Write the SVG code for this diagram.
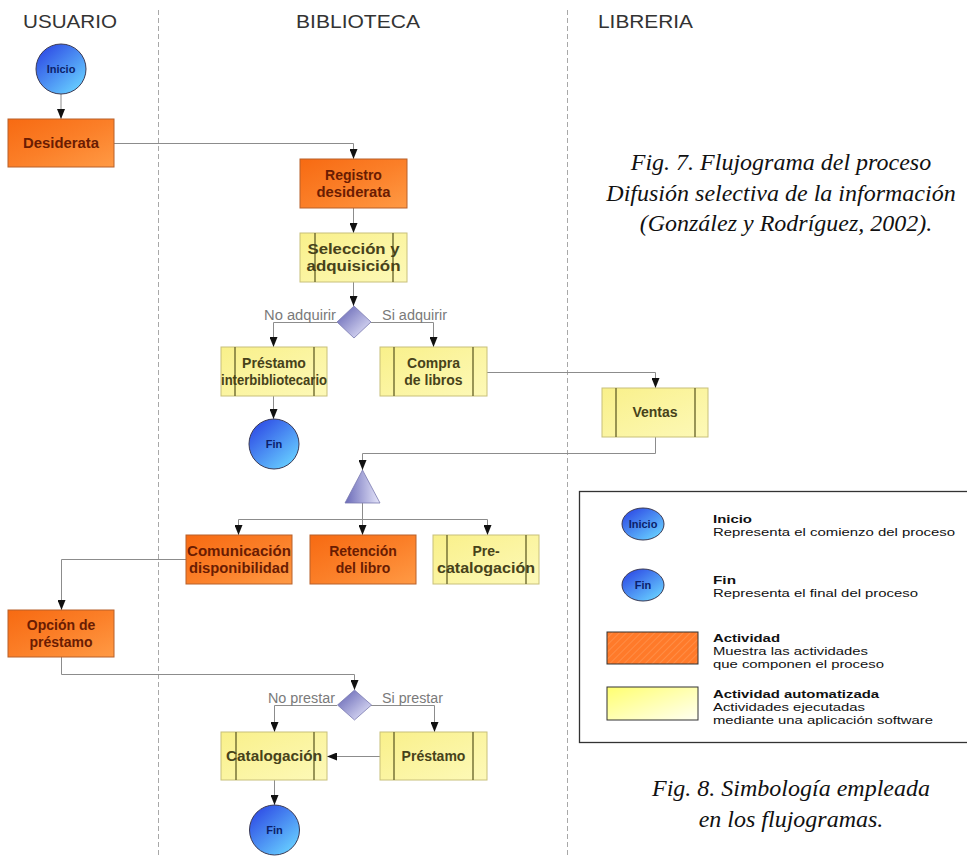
<svg xmlns="http://www.w3.org/2000/svg" width="967" height="858" viewBox="0 0 967 858">
  <defs>
    <linearGradient id="gOrange" x1="0" y1="0" x2="1" y2="1">
      <stop offset="0" stop-color="#f76a12"/>
      <stop offset="0.5" stop-color="#fb7f28"/>
      <stop offset="1" stop-color="#ff9a45"/>
    </linearGradient>
    <linearGradient id="gYellow" x1="0" y1="0" x2="1" y2="1">
      <stop offset="0" stop-color="#f9f08a"/>
      <stop offset="1" stop-color="#fdf9b8"/>
    </linearGradient>
    <linearGradient id="gLegYellow" x1="0" y1="0" x2="1" y2="1">
      <stop offset="0" stop-color="#ffff70"/>
      <stop offset="1" stop-color="#fffff2"/>
    </linearGradient>
    <linearGradient id="gBlue" x1="0.15" y1="0.1" x2="0.85" y2="0.9">
      <stop offset="0" stop-color="#3050e6"/>
      <stop offset="1" stop-color="#66ccff"/>
    </linearGradient>
    <linearGradient id="gLilac" x1="0" y1="0" x2="1" y2="1">
      <stop offset="0" stop-color="#5c5cb0"/>
      <stop offset="1" stop-color="#eeeeff"/>
    </linearGradient>
    <linearGradient id="gTri" x1="0" y1="0" x2="1" y2="0">
      <stop offset="0" stop-color="#6a6ab8"/>
      <stop offset="1" stop-color="#e6e6fa"/>
    </linearGradient>
    <pattern id="hatch" width="5" height="5" patternUnits="userSpaceOnUse" patternTransform="rotate(45)">
      <rect width="5" height="5" fill="#ff7a2a"/>
      <line x1="0" y1="0" x2="0" y2="5" stroke="#ffa060" stroke-width="1"/>
    </pattern>
    <marker id="arr" viewBox="0 0 10 10" refX="10" refY="5" markerWidth="10" markerHeight="8" markerUnits="userSpaceOnUse" orient="auto" preserveAspectRatio="none">
      <path d="M0,0 L10,5 L0,10 z" fill="#111"/>
    </marker>
  </defs>
  <style>
    .lane{stroke:#a8a8a8;stroke-width:1;stroke-dasharray:5 3;fill:none}
    .hdr{font-family:"Liberation Sans",Arial,sans-serif;font-size:18px;fill:#333}
    .conn path{fill:none;stroke:#8c8c8c;stroke-width:1}
    .conn path.a{marker-end:url(#arr)}
    .act{fill:url(#gOrange);stroke:#b8602a;stroke-width:1}
    .auto{fill:url(#gYellow);stroke:#c8c07a;stroke-width:1}
    .bar{stroke:#6e6a30;stroke-width:1.4}
    .start{fill:url(#gBlue);stroke:#3a3a55;stroke-width:1}
    .dec{fill:url(#gLilac);stroke:#7a7ab0;stroke-width:0.8}
    .tri{fill:url(#gTri);stroke:#7a7ab0;stroke-width:0.8}
    .ta,.ty,.tc{font-family:"Liberation Sans",Arial,sans-serif;font-weight:bold;font-size:14px;text-anchor:middle}
    .ta{fill:#6a1c02}
    .ty{fill:#47421a}
    .tc{fill:#0c1f6a;font-size:11px}
    .lbl{font-family:"Liberation Sans",Arial,sans-serif;font-size:14px;fill:#7a7a7a}
    .leg{fill:#fff;stroke:#333;stroke-width:1.3}
    .lt{font-family:"Liberation Sans",Arial,sans-serif;font-size:11px;fill:#111}
    .lt.b{font-weight:bold}
    .cap{font-family:"Liberation Serif","Times New Roman",serif;font-style:italic;font-size:24px;fill:#111;text-anchor:middle}
  </style>

  <rect width="967" height="858" fill="#fff"/>

  <!-- swimlane separators and titles -->
  <g id="lanes">
    <line class="lane" x1="158.5" y1="10" x2="158.5" y2="858"/>
    <line class="lane" x1="567.5" y1="10" x2="567.5" y2="858"/>
    <text class="hdr" x="23" y="28" textLength="94" lengthAdjust="spacingAndGlyphs">USUARIO</text>
    <text class="hdr" x="296" y="28" textLength="124" lengthAdjust="spacingAndGlyphs">BIBLIOTECA</text>
    <text class="hdr" x="598" y="28" textLength="95" lengthAdjust="spacingAndGlyphs">LIBRERIA</text>
  </g>

  <!-- connectors -->
  <g id="connectors" class="conn">
    <path class="a" d="M61,94 V119"/>
    <path class="a" d="M114,143.5 H353.5 V159"/>
    <path class="a" d="M353.5,208 V233"/>
    <path class="a" d="M353.5,282 V306"/>
    <path class="a" d="M337,322.5 H273.5 V347"/>
    <path class="a" d="M371,322.5 H433.5 V347"/>
    <path class="a" d="M273.5,396 V419"/>
    <path class="a" d="M487,372.5 H655.5 V388"/>
    <path class="a" d="M655.5,437 V453.5 H362.5 V470"/>
    <path class="a" d="M362.5,503 V535"/>
    <path d="M238.5,519.5 H487.5"/>
    <path class="a" d="M238.5,519.5 V535"/>
    <path class="a" d="M487.5,519.5 V535"/>
    <path class="a" d="M186,559.5 H61.5 V610"/>
    <path class="a" d="M61.5,657 V674.5 H354.5 V690"/>
    <path class="a" d="M337,705.5 H274.5 V732"/>
    <path class="a" d="M371,705.5 H434.5 V732"/>
    <path class="a" d="M380,756.5 H327"/>
    <path class="a" d="M274.5,780 V805"/>
    <text class="lbl" x="336" y="320" text-anchor="end" textLength="72" lengthAdjust="spacingAndGlyphs">No adquirir</text>
    <text class="lbl" x="382" y="320" textLength="65" lengthAdjust="spacingAndGlyphs">Si adquirir</text>
    <text class="lbl" x="335" y="703" text-anchor="end" textLength="67" lengthAdjust="spacingAndGlyphs">No prestar</text>
    <text class="lbl" x="382" y="703" textLength="61" lengthAdjust="spacingAndGlyphs">Si prestar</text>
  </g>

  <!-- process nodes -->
  <g id="inicio">
    <circle class="start" cx="61" cy="69" r="25"/>
    <text class="tc" x="61" y="73">Inicio</text>
  </g>
  <g id="desiderata">
    <rect class="act" x="8" y="119" width="106" height="48"/>
    <text class="ta" x="61" y="148" textLength="76" lengthAdjust="spacingAndGlyphs">Desiderata</text>
  </g>
  <g id="registro-desiderata">
    <rect class="act" x="300" y="159" width="107" height="49"/>
    <text class="ta" x="353.5" y="180">Registro</text>
    <text class="ta" x="353.5" y="197" textLength="74" lengthAdjust="spacingAndGlyphs">desiderata</text>
  </g>
  <g id="seleccion-adquisicion">
    <rect class="auto" x="300" y="233" width="107" height="49"/>
    <line class="bar" x1="315" y1="233" x2="315" y2="282"/>
    <line class="bar" x1="393" y1="233" x2="393" y2="282"/>
    <text class="ty" x="353.5" y="254" textLength="92" lengthAdjust="spacingAndGlyphs">Selección y</text>
    <text class="ty" x="353.5" y="271" textLength="94" lengthAdjust="spacingAndGlyphs">adquisición</text>
  </g>
  <g id="decision-adquirir">
    <polygon class="dec" points="354,306 371,322 354,338 337,322"/>
  </g>
  <g id="prestamo-interbibliotecario">
    <rect class="auto" x="221" y="347" width="106" height="49"/>
    <line class="bar" x1="235" y1="347" x2="235" y2="396"/>
    <line class="bar" x1="314" y1="347" x2="314" y2="396"/>
    <text class="ty" x="274" y="368" font-size="12">Préstamo</text>
    <text class="ty" x="274" y="385" font-size="12" textLength="106" lengthAdjust="spacingAndGlyphs">interbibliotecario</text>
  </g>
  <g id="compra-libros">
    <rect class="auto" x="380" y="347" width="107" height="49"/>
    <line class="bar" x1="394" y1="347" x2="394" y2="396"/>
    <line class="bar" x1="473" y1="347" x2="473" y2="396"/>
    <text class="ty" x="433.5" y="368">Compra</text>
    <text class="ty" x="433.5" y="385">de libros</text>
  </g>
  <g id="fin-1">
    <circle class="start" cx="274" cy="444" r="25"/>
    <text class="tc" x="274" y="448">Fin</text>
  </g>
  <g id="ventas">
    <rect class="auto" x="602" y="388" width="106" height="49"/>
    <line class="bar" x1="616" y1="388" x2="616" y2="437"/>
    <line class="bar" x1="695" y1="388" x2="695" y2="437"/>
    <text class="ty" x="655" y="417">Ventas</text>
  </g>
  <g id="bifurcacion">
    <polygon class="tri" points="362.5,470 345,503 380,503"/>
  </g>
  <g id="comunicacion-disponibilidad">
    <rect class="act" x="186" y="535" width="106" height="49"/>
    <text class="ta" x="239" y="556" textLength="104" lengthAdjust="spacingAndGlyphs">Comunicación</text>
    <text class="ta" x="239" y="573" textLength="100" lengthAdjust="spacingAndGlyphs">disponibilidad</text>
  </g>
  <g id="retencion-libro">
    <rect class="act" x="310" y="535" width="106" height="49"/>
    <text class="ta" x="363" y="556">Retención</text>
    <text class="ta" x="363" y="573">del libro</text>
  </g>
  <g id="precatalogacion">
    <rect class="auto" x="433" y="535" width="106" height="49"/>
    <line class="bar" x1="447" y1="535" x2="447" y2="584"/>
    <line class="bar" x1="526" y1="535" x2="526" y2="584"/>
    <text class="ty" x="486" y="556">Pre-</text>
    <text class="ty" x="486" y="573" textLength="98" lengthAdjust="spacingAndGlyphs">catalogación</text>
  </g>
  <g id="opcion-prestamo">
    <rect class="act" x="8" y="610" width="106" height="47"/>
    <text class="ta" x="61" y="630">Opción de</text>
    <text class="ta" x="61" y="647">préstamo</text>
  </g>
  <g id="decision-prestar">
    <polygon class="dec" points="354.5,690 371.5,705 354.5,720 337.5,705"/>
  </g>
  <g id="catalogacion">
    <rect class="auto" x="221" y="732" width="106" height="48"/>
    <line class="bar" x1="236" y1="732" x2="236" y2="780"/>
    <line class="bar" x1="314" y1="732" x2="314" y2="780"/>
    <text class="ty" x="274" y="761" textLength="96" lengthAdjust="spacingAndGlyphs">Catalogación</text>
  </g>
  <g id="prestamo">
    <rect class="auto" x="380" y="732" width="107" height="48"/>
    <line class="bar" x1="394" y1="732" x2="394" y2="780"/>
    <line class="bar" x1="473" y1="732" x2="473" y2="780"/>
    <text class="ty" x="433.5" y="761">Préstamo</text>
  </g>
  <g id="fin-2">
    <circle class="start" cx="274.5" cy="830" r="25"/>
    <text class="tc" x="274.5" y="834">Fin</text>
  </g>

  <!-- captions -->
  <g id="caption-fig7">
    <text class="cap" x="781" y="170">Fig. 7. Flujograma del proceso</text>
    <text class="cap" x="781" y="201">Difusión selectiva de la información</text>
    <text class="cap" x="786" y="231">(González y Rodríguez, 2002).</text>
  </g>

  <!-- symbol legend -->
  <g id="legend">
    <rect class="leg" x="579.5" y="491.5" width="400" height="251"/>
    <ellipse class="start" cx="643" cy="524" rx="21" ry="16"/>
    <text class="tc" x="643" y="528" font-size="10">Inicio</text>
    <text class="lt b" x="713" y="523" textLength="39" lengthAdjust="spacingAndGlyphs">Inicio</text>
    <text class="lt" x="713" y="536" textLength="242" lengthAdjust="spacingAndGlyphs">Representa el comienzo del proceso</text>
    <ellipse class="start" cx="643" cy="585" rx="21" ry="16"/>
    <text class="tc" x="643" y="589" font-size="10">Fin</text>
    <text class="lt b" x="713" y="584" textLength="23" lengthAdjust="spacingAndGlyphs">Fin</text>
    <text class="lt" x="713" y="597" textLength="205" lengthAdjust="spacingAndGlyphs">Representa el final del proceso</text>
    <rect x="607" y="632" width="91" height="32" fill="url(#hatch)" stroke="#333" stroke-width="1"/>
    <text class="lt b" x="713" y="642" textLength="67" lengthAdjust="spacingAndGlyphs">Actividad</text>
    <text class="lt" x="713" y="655" textLength="155" lengthAdjust="spacingAndGlyphs">Muestra las actividades</text>
    <text class="lt" x="713" y="668" textLength="171" lengthAdjust="spacingAndGlyphs">que componen el proceso</text>
    <rect x="607" y="687" width="91" height="33" fill="url(#gLegYellow)" stroke="#333" stroke-width="1"/>
    <text class="lt b" x="713" y="698" textLength="166" lengthAdjust="spacingAndGlyphs">Actividad automatizada</text>
    <text class="lt" x="713" y="711" textLength="152" lengthAdjust="spacingAndGlyphs">Actividades ejecutadas</text>
    <text class="lt" x="713" y="724" textLength="220" lengthAdjust="spacingAndGlyphs">mediante una aplicación software</text>
  </g>

  <g id="caption-fig8">
    <text class="cap" x="791" y="796">Fig. 8. Simbología empleada</text>
    <text class="cap" x="791" y="827">en los flujogramas.</text>
  </g>
</svg>
